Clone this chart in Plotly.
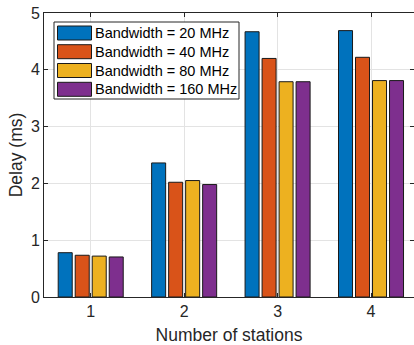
import plotly.graph_objects as go

stations = [1, 2, 3, 4]
series_names = ["Bandwidth = 20 MHz", "Bandwidth = 40 MHz", "Bandwidth = 80 MHz", "Bandwidth = 160 MHz"]
delay_20 = [0.78, 2.36, 4.67, 4.69]
delay_40 = [0.735, 2.02, 4.20, 4.22]
delay_80 = [0.72, 2.05, 3.79, 3.81]
delay_160 = [0.705, 1.98, 3.79, 3.81]
series_values = [delay_20, delay_40, delay_80, delay_160]
colors = ["#0072BD", "#D95319", "#EDB120", "#7E2F8E"]
y_ticks = [0, 1, 2, 3, 4, 5]

W, H = 414, 345
ML, MR, MT, MB = 44, 0, 13, 48
PW, PH = W - ML - MR, H - MT - MB

def px_x(x):
    return (x - ML) / PW

def px_y(y):
    return (H - MB - y) / PH

fig = go.Figure()
for name, vals, c in zip(series_names, series_values, colors):
    fig.add_trace(go.Bar(
        x=stations, y=vals, name=name,
        marker=dict(color=c, line=dict(color="#1a1a1a", width=1)),
        showlegend=False,
    ))

FONT = "Liberation Sans, Arial, sans-serif"
axis_common = dict(
    showline=True, linecolor="#262626", linewidth=1, mirror="allticks",
    ticks="inside", ticklen=4, tickcolor="#262626",
    showgrid=True, gridcolor="#e3e3e3", gridwidth=1,
    zeroline=False,
    tickfont=dict(family=FONT, size=16, color="#262626"),
)

fig.update_layout(
    width=W, height=H,
    margin=dict(l=ML, r=MR, t=MT, b=MB),
    paper_bgcolor="white", plot_bgcolor="white",
    barmode="group", bargap=0.272, bargroupgap=0.176,
    font=dict(family=FONT, color="#262626"),
    xaxis=dict(range=[0.5, 4.46], tickvals=stations, ticktext=[str(s) for s in stations],
               title=dict(text="Number of stations", font=dict(size=17.5), standoff=9),
               **axis_common),
    yaxis=dict(range=[0, 5], tickvals=y_ticks,
               title=dict(text="Delay (ms)", font=dict(size=17.5), standoff=3),
               **axis_common),
)

# Custom MATLAB-style legend
shapes = [dict(type="rect", xref="paper", yref="paper",
               x0=px_x(54), x1=px_x(239), y0=px_y(99), y1=px_y(22),
               line=dict(color="#262626", width=1), fillcolor="white", layer="above")]
annotations = []
row_centers = [33, 51.7, 70.5, 89.3]
for name, c, yc in zip(series_names, colors, row_centers):
    shapes.append(dict(type="rect", xref="paper", yref="paper",
                       x0=px_x(57.5), x1=px_x(91.5), y0=px_y(yc + 7), y1=px_y(yc - 7),
                       line=dict(color="#1a1a1a", width=1), fillcolor=c, layer="above"))
    annotations.append(dict(xref="paper", yref="paper", x=px_x(93), y=px_y(yc),
                            xanchor="left", yanchor="middle", showarrow=False,
                            text=name, font=dict(size=14.5, color="#000000", family=FONT)))
fig.update_layout(shapes=shapes, annotations=annotations)

fig.write_html("out.html")
